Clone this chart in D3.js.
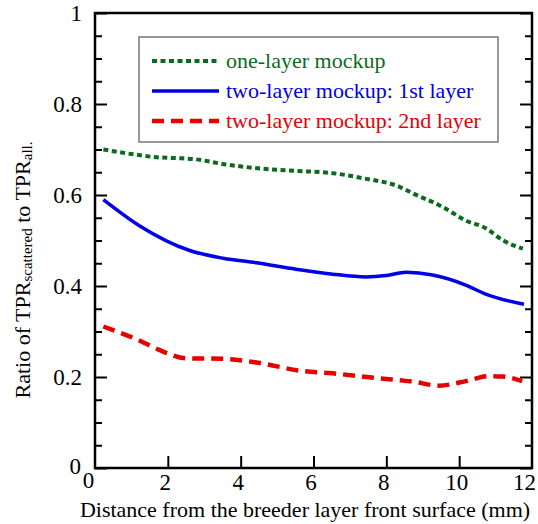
<!DOCTYPE html>
<html>
<head>
<meta charset="utf-8">
<script src="https://cdn.jsdelivr.net/npm/d3@7"></script>
<style>
  body { margin: 0; background: #fff; }
  text { font-family: "Liberation Serif", "DejaVu Serif", serif; }
</style>
</head>
<body>
<svg id="chart" width="538" height="524"></svg>
<script>
// distance from the breeder layer front surface (mm)
var oneLayerX = [0.23, 1.0, 1.69, 2.24, 2.7, 3.61, 4.7, 5.52, 6.53, 7.35, 8.36, 8.72, 9.54, 10.18, 10.73, 11.19, 11.75]
var oneLayerY = [0.700, 0.690, 0.683, 0.681, 0.679, 0.667, 0.657, 0.653, 0.648, 0.637, 0.618, 0.604, 0.574, 0.544, 0.527, 0.501, 0.482]

var firstLayerX = [0.23, 1.23, 2.6, 3.52, 4.43, 5.52, 6.53, 7.44, 8.0, 8.54, 9.27, 10.18, 10.73, 11.78]
var firstLayerY = [0.590, 0.532, 0.478, 0.461, 0.451, 0.437, 0.426, 0.420, 0.423, 0.430, 0.424, 0.402, 0.382, 0.360]

var secondLayerX = [0.23, 1.14, 1.87, 2.51, 3.52, 4.43, 5.62, 6.53, 7.81, 8.72, 9.45, 10.18, 10.82, 11.19, 11.73]
var secondLayerY = [0.311, 0.283, 0.256, 0.241, 0.240, 0.232, 0.214, 0.208, 0.197, 0.190, 0.181, 0.191, 0.202, 0.201, 0.191]

var seriesNames = ['one-layer mockup', 'two-layer mockup: 1st layer', 'two-layer mockup: 2nd layer']
var xTicks = [0, 2, 4, 6, 8, 10, 12]
var yTicks = [0, 0.2, 0.4, 0.6, 0.8, 1]

var svg = d3.select('#chart')
  , pLeft = 95, pRight = 532, pTop = 13, pBottom = 468

var x = d3.scaleLinear().domain([0, 12]).range([pLeft, pRight])
var y = d3.scaleLinear().domain([0, 1]).range([pBottom, pTop])

var series = [
  { name: seriesNames[0], xs: oneLayerX, ys: oneLayerY, color: '#0b6a1f', width: 4, dash: '5,3.5' },
  { name: seriesNames[1], xs: firstLayerX, ys: firstLayerY, color: '#0000e6', width: 3.5, dash: null },
  { name: seriesNames[2], xs: secondLayerX, ys: secondLayerY, color: '#e60000', width: 4.5, dash: '12,7' }
]

// minor ticks every 0.05, majors every 0.2
var yMinor = d3.range(0, 1.0001, 0.05).filter(function(v) { return Math.abs(v * 5 - Math.round(v * 5)) > 1e-6 })

function styleAxis(g) {
  g.select('.domain').remove()
  g.selectAll('line').attr('stroke', '#000').attr('stroke-width', 2)
  g.selectAll('text').attr('fill', '#000').style('font-size', '23px')
}

svg.append('g').attr('transform', 'translate(' + pLeft + ',0)')
  .call(d3.axisLeft(y).tickValues(yMinor).tickSize(-7).tickFormat(''))
  .call(styleAxis)
svg.append('g').attr('transform', 'translate(' + pRight + ',0)')
  .call(d3.axisRight(y).tickValues(yMinor).tickSize(-7).tickFormat(''))
  .call(styleAxis)
svg.append('g').attr('transform', 'translate(' + pRight + ',0)')
  .call(d3.axisRight(y).tickValues(yTicks).tickSize(-12).tickFormat(''))
  .call(styleAxis)

var yAx = svg.append('g').attr('transform', 'translate(' + pLeft + ',0)')
  .call(d3.axisLeft(y).tickValues(yTicks).tickSize(-12).tickPadding(13).tickFormat(function(d) { return d === 0 || d === 1 ? d : d.toFixed(1) }))
  .call(styleAxis)
yAx.selectAll('.tick').filter(function(d) { return d === 0 }).select('text').attr('dy', '0.25em').attr('x', -14)

var xAx = svg.append('g').attr('transform', 'translate(0,' + pBottom + ')')
  .call(d3.axisBottom(x).tickValues(xTicks).tickSize(-12).tickPadding(6).tickFormat(d3.format('d')))
  .call(styleAxis)
xAx.selectAll('.tick text').attr('dx', -3)
xAx.selectAll('.tick').filter(function(d) { return d === 0 }).select('text').attr('dx', -7).attr('dy', '0.6em')
xAx.selectAll('.tick').filter(function(d) { return d === 12 }).select('text').attr('dx', -8)
xAx.selectAll('.tick').filter(function(d) { return d === 0 || d === 12 }).select('line').remove()

// frame
svg.append('rect')
  .attr('x', pLeft).attr('y', pTop)
  .attr('width', pRight - pLeft).attr('height', pBottom - pTop)
  .attr('fill', 'none').attr('stroke', '#000').attr('stroke-width', 2.5)

var line = d3.line()
  .x(function(d) { return x(d[0]) })
  .y(function(d) { return y(d[1]) })
  .curve(d3.curveMonotoneX)

series.forEach(function(s) {
  svg.append('path')
    .datum(d3.zip(s.xs, s.ys))
    .attr('d', line)
    .attr('fill', 'none')
    .attr('stroke', s.color)
    .attr('stroke-width', s.width)
    .attr('stroke-dasharray', s.dash)
})

// legend
var lg = svg.append('g')
lg.append('rect')
  .attr('x', 139).attr('y', 37).attr('width', 359).attr('height', 105)
  .attr('fill', '#fff').attr('stroke', '#777').attr('stroke-width', 1.5)

series.forEach(function(s, i) {
  var ly = 61 + i * 30
  lg.append('line')
    .attr('x1', 152).attr('x2', 219).attr('y1', ly).attr('y2', ly)
    .attr('stroke', s.color).attr('stroke-width', s.width)
    .attr('stroke-dasharray', s.dash)
  lg.append('text')
    .attr('x', 226).attr('y', ly + 7)
    .attr('fill', s.color)
    .style('font-size', '22px')
    .text(s.name)
})

// axis titles
svg.append('text')
  .attr('x', 305).attr('y', 517)
  .attr('text-anchor', 'middle')
  .style('font-size', '22px')
  .text('Distance from the breeder layer front surface (mm)')

var yt = svg.append('text')
  .attr('transform', 'translate(30,270) rotate(-90)')
  .attr('text-anchor', 'middle')
  .style('font-size', '22px')
yt.append('tspan').text('Ratio of  TPR')
yt.append('tspan').style('font-size', '15px').attr('dy', 2).text('scattered')
yt.append('tspan').attr('dy', -2).text(' to TPR')
yt.append('tspan').style('font-size', '15px').attr('dy', 2).text('all.')
</script>
</body>
</html>
